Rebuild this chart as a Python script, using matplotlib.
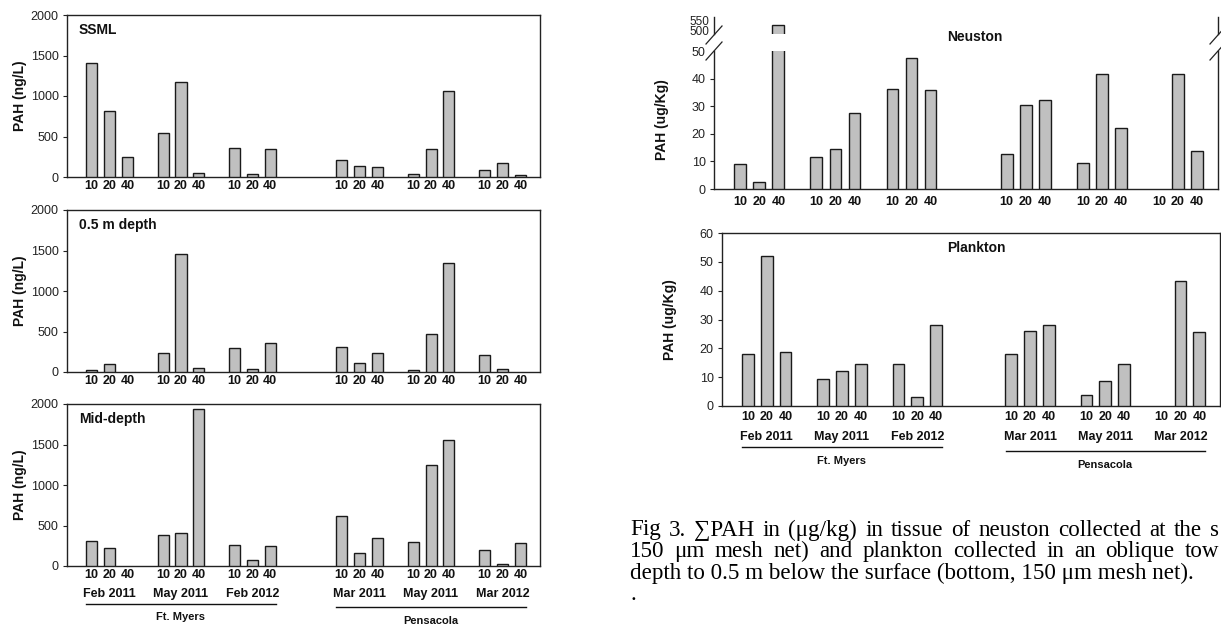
import matplotlib
matplotlib.use("Agg")
import matplotlib.pyplot as plt
from matplotlib.lines import Line2D
import matplotlib.transforms as mtransforms

# ---------------- data ----------------
mesh_labels = ["10", "20", "40"]
months_ftmyers = ["Feb 2011", "May 2011", "Feb 2012"]
months_pensacola = ["Mar 2011", "May 2011", "Mar 2012"]
sites = ["Ft. Myers", "Pensacola"]

ssml = [1410, 820, 250, 540, 1175, 50, 360, 40, 350,
        215, 140, 120, 35, 340, 1065, 85, 175, 30]
half_m = [30, 100, 0, 240, 1460, 45, 295, 35, 360,
          305, 110, 240, 20, 465, 1340, 215, 40, 0]
mid_depth = [310, 220, 0, 385, 405, 1940, 255, 75, 250,
             615, 160, 350, 295, 1250, 1555, 195, 20, 285]
neuston = [9.1, 2.5, 525, 11.5, 14.4, 27.6, 36.3, 47.5, 36.0,
           12.6, 30.4, 32.3, 9.6, 41.8, 22.0, 0, 41.6, 13.8]
plankton = [18.1, 51.9, 18.9, 9.2, 12.2, 14.6, 14.4, 3.0, 28.2,
            17.9, 25.9, 28.0, 3.8, 8.6, 14.7, 0, 43.2, 25.5]

caption_lines = [
    "Fig 3. \u2211PAH in (\u03bcg/kg) in tissue of neuston collected at the s",
    "150 \u03bcm mesh net) and plankton collected in an oblique tow",
    "depth to 0.5 m below the surface (bottom, 150 \u03bcm mesh net).",
    ".",
]
caption_justified = [True, True, False, False]

# ---------------- layout ----------------
W, H = 1221, 628
plt.rcParams['font.family'] = ['Liberation Sans', 'DejaVu Sans']
fig = plt.figure(figsize=(W / 100, H / 100), dpi=100)

BAR_FC = "#c0c0c0"
BAR_EC = "#1a1a1a"
n_groups = len(months_ftmyers) + len(months_pensacola)
# slot positions: 4 slots per group, extra gap of 2 between sites
xpos = []
for g in range(n_groups):
    base = g * 4 + (2 if g >= len(months_ftmyers) else 0)
    for i in range(len(mesh_labels)):
        xpos.append(base + i)
XLIM = (-1.38, 25.1)


def px_axes(x0, y0, x1, y1):
    return fig.add_axes([x0 / W, 1 - y1 / H, (x1 - x0) / W, (y1 - y0) / H])


def fy(py):
    return 1 - py / H


def draw_bars(ax, vals):
    lws = [1.0 if v > 0 else 0.0 for v in vals]
    ax.bar(xpos, vals, width=0.62, color=BAR_FC, edgecolor=BAR_EC, linewidth=lws, zorder=3)
    ax.set_xlim(*XLIM)
    ax.set_xticks([])
    ax.tick_params(axis='y', labelsize=9, length=3, width=0.8, direction='out', pad=3, colors='#222222')
    for s in ax.spines.values():
        s.set_linewidth(1.0)
        s.set_color('#222222')


def mesh_text(ax, py, size=9):
    tr = mtransforms.blended_transform_factory(ax.transData, fig.transFigure)
    for k, x in enumerate(xpos):
        ax.text(x, fy(py), mesh_labels[k % 3], transform=tr, ha='center', va='center',
                fontsize=size, fontweight='bold', color='#111111')


def month_site_text(ax, py_month, py_line_fm, py_line_pe, py_site_fm, py_site_pe):
    tr = mtransforms.blended_transform_factory(ax.transData, fig.transFigure)
    months = months_ftmyers + months_pensacola
    for g in range(n_groups):
        cx = xpos[g * 3 + 1]
        ax.text(cx, fy(py_month), months[g], transform=tr, ha='center', va='center',
                fontsize=9, fontweight='bold', color='#111111')
    spans = [(-0.3, 10.3), (13.7, 24.3)]
    for (a, b), pyl, pys, name in zip(spans, [py_line_fm, py_line_pe],
                                       [py_site_fm, py_site_pe], sites):
        ln = Line2D([a, b], [fy(pyl), fy(pyl)], transform=tr, color='#111111',
                    linewidth=1.0, clip_on=False)
        ax.add_line(ln)
        ax.text((a + b) / 2, fy(pys), name, transform=tr, ha='center', va='center',
                fontsize=8, fontweight='bold', color='#111111')


# ---------------- left panels ----------------
left_specs = [(ssml, "SSML", 15, 177), (half_m, "0.5 m depth", 210, 372),
              (mid_depth, "Mid-depth", 404, 566)]
left_axes = []
for vals, title, y0, y1 in left_specs:
    ax = px_axes(67, y0, 540, y1)
    draw_bars(ax, vals)
    ax.set_ylim(0, 2000)
    ax.set_yticks([0, 500, 1000, 1500, 2000])
    ax.text(0.025, 0.95, title, transform=ax.transAxes, ha='left', va='top',
            fontsize=10, fontweight='bold', color='#111111')
    fig.text(20 / W, fy((y0 + y1) / 2), "PAH (ng/L)", rotation=90, ha='center', va='center',
             fontsize=10, fontweight='bold', color='#111111')
    mesh_text(ax, y1 + 9)
    left_axes.append(ax)

month_site_text(left_axes[2], 594, 604, 607, 617, 621)

# ---------------- neuston (broken axis) ----------------
RX0, RX1 = 714, 1218
ax_nu = px_axes(RX0, 17, RX1, 34)
ax_nl = px_axes(RX0, 51, RX1, 189)
for a in (ax_nu, ax_nl):
    draw_bars(a, neuston)
ax_nu.set_ylim(486, 564)
ax_nu.set_yticks([500, 550])
ax_nu.tick_params(axis='y', labelsize=8.5, length=0)
ax_nu.spines['bottom'].set_visible(False)
ax_nu.spines['top'].set_visible(False)
ax_nl.set_ylim(0, 50)
ax_nl.set_yticks([0, 10, 20, 30, 40, 50])
ax_nl.spines['top'].set_visible(False)
ax_nl.tick_params(axis='y', labelsize=9)
ax_nl.yaxis.get_major_ticks()[-1].tick1line.set_visible(False)
for xx in (RX0, RX1):
    for yy in (35, 51):
        fig.add_artist(Line2D([(xx - 8) / W, (xx + 8) / W], [fy(yy + 9), fy(yy - 9)],
                              color='#222222', linewidth=0.9))
fig.text(975 / W, fy(37), "Neuston", ha='center', va='center', fontsize=10,
         fontweight='bold', color='#111111')
fig.text(662 / W, fy(120), "PAH (ug/Kg)", rotation=90, ha='center', va='center',
         fontsize=10, fontweight='bold', color='#111111')
mesh_text(ax_nl, 202)

# ---------------- plankton ----------------
ax_p = px_axes(722, 233, 1220, 406)
draw_bars(ax_p, plankton)
ax_p.set_ylim(0, 60)
ax_p.set_yticks([0, 10, 20, 30, 40, 50, 60])
ax_p.text(0.51, 0.915, "Plankton", transform=ax_p.transAxes, ha='center', va='center',
          fontsize=10, fontweight='bold', color='#111111')
fig.text(670 / W, fy(320), "PAH (ug/Kg)", rotation=90, ha='center', va='center',
         fontsize=10, fontweight='bold', color='#111111')
mesh_text(ax_p, 417)
month_site_text(ax_p, 437, 447, 451, 461, 465)

# ---------------- caption (justified like the source document) ----------------
CAP_X0, CAP_X1 = 630, 1219
cap_font = dict(fontsize=16.6, family=['Liberation Serif', 'DejaVu Serif'], color='#000000')
renderer = fig.canvas.get_renderer()
for k, (line, just) in enumerate(zip(caption_lines, caption_justified)):
    py = fy(530 + k * 21.5)
    if not just:
        fig.text(CAP_X0 / W, py, line, ha='left', va='center', **cap_font)
        continue
    words = line.split(" ")
    objs = [fig.text(0, py, w, ha='left', va='center', **cap_font) for w in words]
    widths = [o.get_window_extent(renderer).width for o in objs]
    gap = (CAP_X1 - CAP_X0 - sum(widths)) / (len(words) - 1)
    x = CAP_X0
    for o, wd in zip(objs, widths):
        o.set_x(x / W)
        x += wd + gap

fig.savefig("out.png", dpi=100)
